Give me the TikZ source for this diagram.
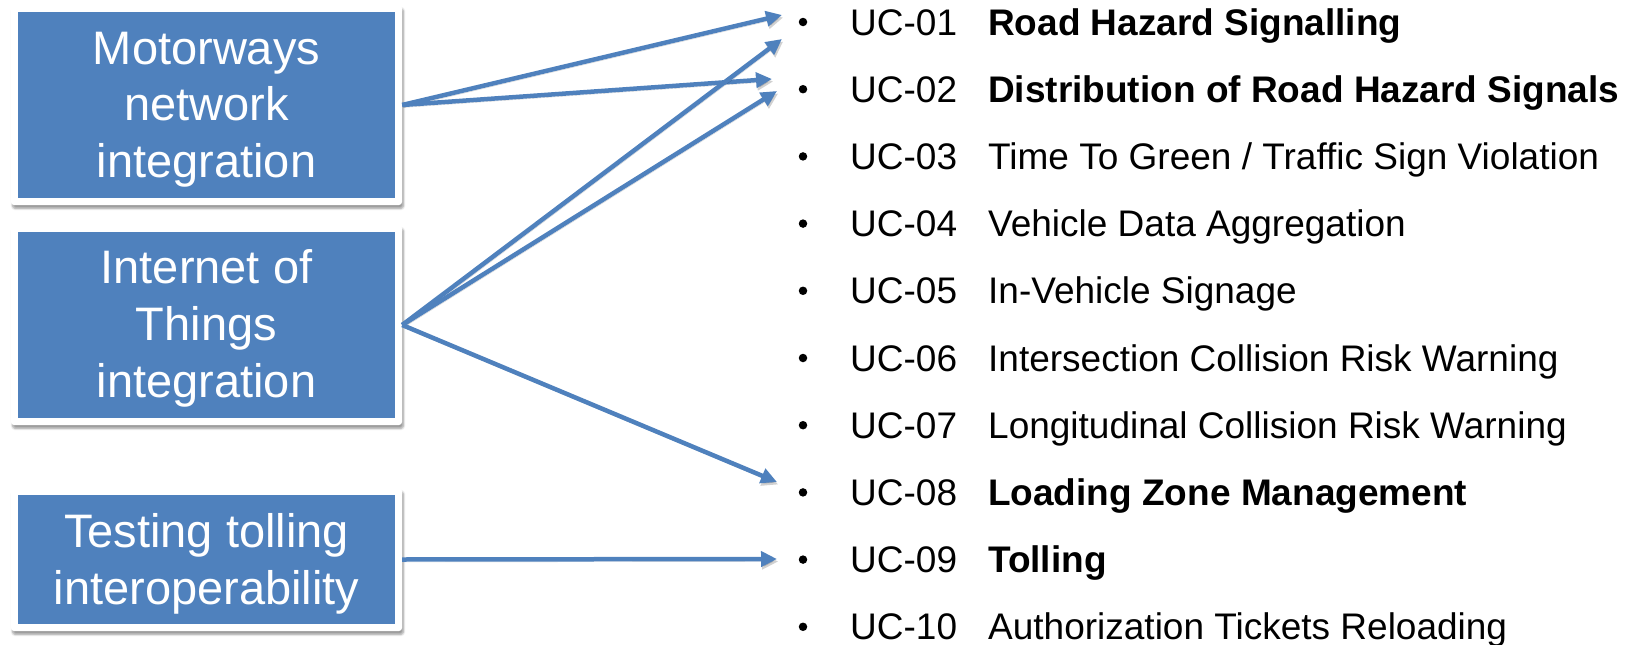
\documentclass[tikz,border=0pt]{standalone}
\usepackage{fontspec}
\setmainfont{Liberation Sans}
\usetikzlibrary{arrows.meta,shadows.blur,calc}
\definecolor{boxblue}{HTML}{4F81BD}
\definecolor{linkblue}{HTML}{4F81BD}
\begin{document}
\begin{tikzpicture}[x=1pt,y=-1pt,
  frame/.style={fill=white, rounded corners=3pt, minimum width=391pt, inner sep=0pt,
    blur shadow={shadow xshift=1.5pt, shadow yshift=-3.5pt, shadow opacity=40, shadow blur steps=6}},
  boxlabel/.style={text=white, align=center, inner sep=0pt,
    font=\fontsize{47}{56.7}\selectfont},
  link/.style={draw=linkblue, line width=4.5pt, -{Triangle[length=16pt,width=15pt]},
    preaction={draw=black, opacity=0.18, transform canvas={shift={(1.2pt,-2.5pt)}}}},
  dot/.style={circle, fill=black, inner sep=0pt, minimum size=8.5pt},
  ucnum/.style={anchor=base west, inner sep=0pt, font=\fontsize{37}{44}\selectfont},
  titleplain/.style={anchor=base west, inner sep=0pt, font=\fontsize{37}{44}\selectfont},
  titlebold/.style={anchor=base west, inner sep=0pt, font=\fontsize{37}{44}\selectfont\bfseries}
]
\useasboundingbox (0,0) rectangle (1634,645);

% source boxes: white frame with a blue panel inside
\node[frame, minimum height=200pt] (m) at (206.5,105) {};
\node[frame, minimum height=200pt] (iot) at (206.5,325) {};
\node[frame, minimum height=143pt] (tt) at (206.5,559.5) {};
\foreach \b in {m,iot,tt}
  \fill[boxblue] ([shift={(7.5pt,-7.5pt)}]\b.north west) rectangle ([shift={(-7.5pt,7.5pt)}]\b.south east);

\node[boxlabel] (mlabel) at ([yshift=-4.5pt]m.center) {Motorways\\network\\integration};
\node[boxlabel] (iotlabel) at ([yshift=-3.5pt]iot.center) {Internet of\\Things\\integration};
\node[boxlabel] (ttlabel) at ([yshift=-4.5pt]tt.center) {Testing tolling\\interoperability};

% use-case list
\foreach \n/\t/\w [count=\i from 0] in {
  01/{Road Hazard Signalling}/titlebold,
  02/{Distribution of Road Hazard Signals}/titlebold,
  03/{Time To Green / Traffic Sign Violation}/titleplain,
  04/{Vehicle Data Aggregation}/titleplain,
  05/{In-Vehicle Signage}/titleplain,
  06/{Intersection Collision Risk Warning}/titleplain,
  07/{Longitudinal Collision Risk Warning}/titleplain,
  08/{Loading Zone Management}/titlebold,
  09/{Tolling}/titlebold,
  10/{Authorization Tickets Reloading}/titleplain}
{
  \node[dot] (dot\n) at (803, 22+67.2*\i) {};
  \node[ucnum] (uc\n) at (850, 35+67.2*\i) {UC-\n};
  \node[\w] (ti\n) at (988, 35+67.2*\i) {\t};
}

% arrow end points in front of the list
\coordinate (t1) at (782,15);
\coordinate (t2) at (772,79);
\coordinate (t3) at (782,39);
\coordinate (t4) at (777,91);
\coordinate (t5) at (777,482);
\coordinate (t6) at (777,559);

\draw[link] (m.east) -- (t1);
\draw[link] (m.east) -- (t2);
\draw[link] (iot.east) -- (t3);
\draw[link] (iot.east) -- (t4);
\draw[link] (iot.east) -- (t5);
\draw[link] (tt.east) -- (t6);
\end{tikzpicture}
\end{document}
